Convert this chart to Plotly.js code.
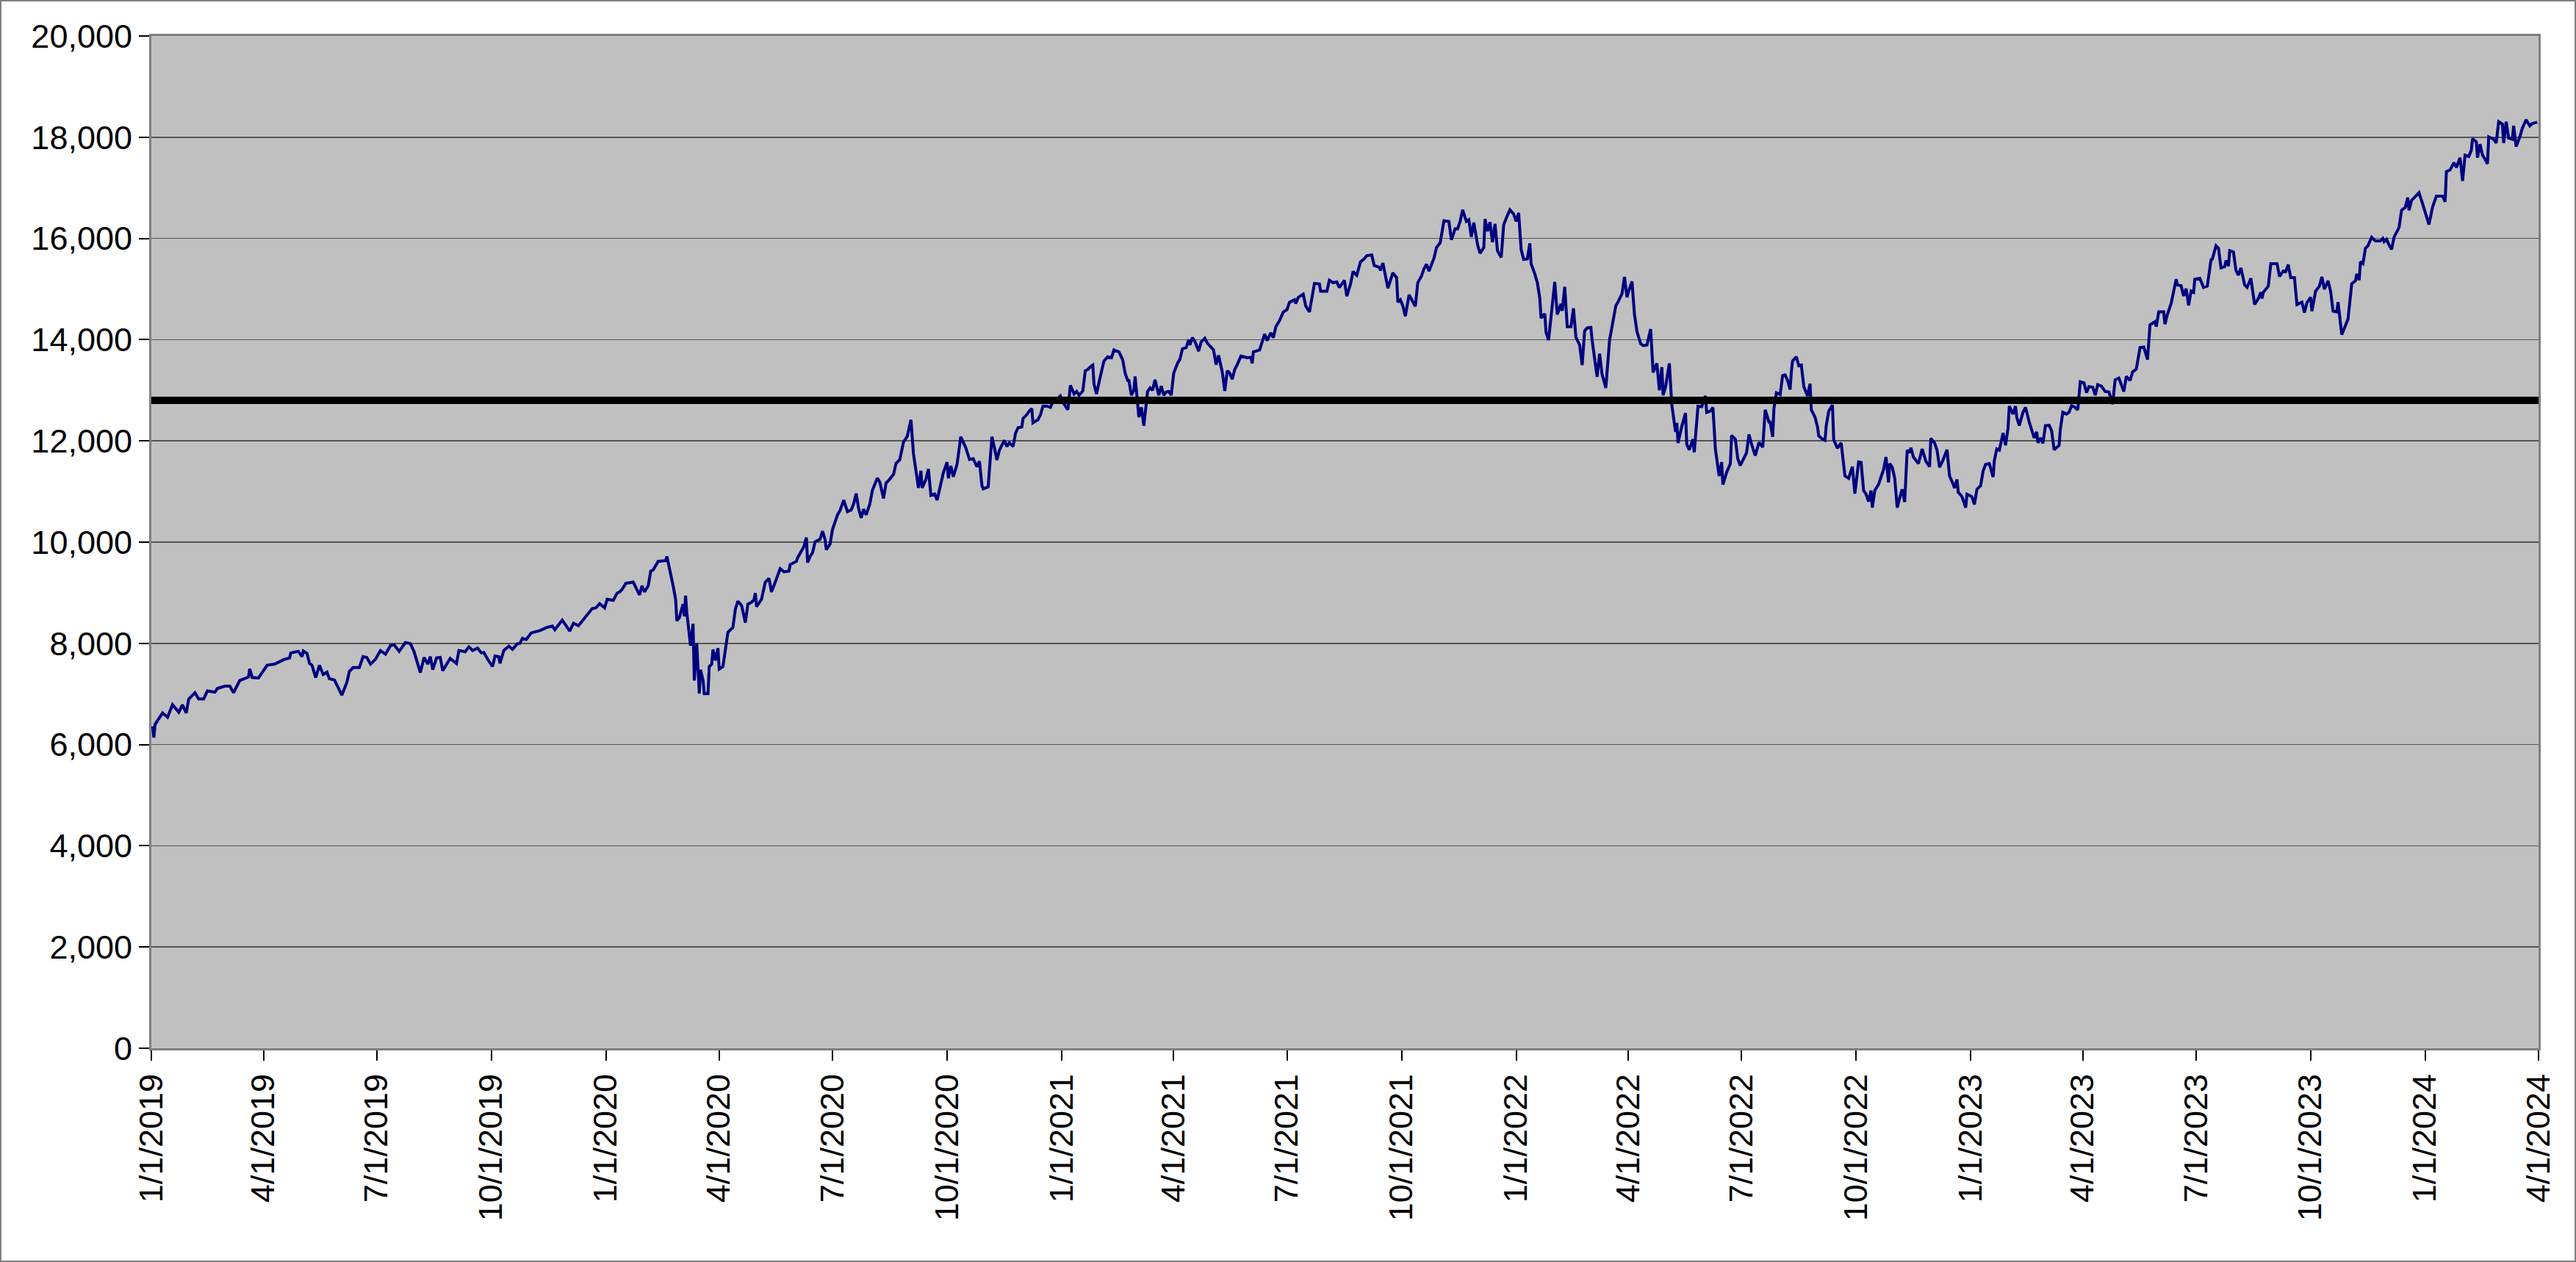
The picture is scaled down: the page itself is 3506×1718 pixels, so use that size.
<!DOCTYPE html>
<html>
<head>
<meta charset="utf-8">
<script src="https://cdn.plot.ly/plotly-3.0.1.min.js"></script>
<style>
  body { margin: 0; background: #fff; }
  #wrap { position: relative; width: 3506px; height: 1718px; }
  #frame { position: absolute; left: 0; top: 0; width: 3506px; height: 1718px; box-sizing: border-box; border: 2px solid #808080; pointer-events: none; }
</style>
</head>
<body>
<div id="wrap">
  <div id="chart" style="width:3506px;height:1718px"></div>
  <div id="frame"></div>
</div>
<script>
// days counted from 1/1/2019
const tradingDay = [
  1, 2, 3, 5, 9, 13, 17, 22, 25, 28, 30, 35, 38, 42, 45, 51, 53, 59, 63, 66, 71, 78, 79, 81, 86, 93, 99, 102, 106, 111,
  112, 118, 121, 122, 125, 127, 129, 132, 135, 138, 141, 143, 147, 153, 157, 159, 162, 167, 170, 173, 176, 180, 184, 188,
  192, 195, 199, 204, 208, 211, 216, 219, 222, 224, 226, 229, 232, 234, 240, 245, 247, 252, 255, 258, 262, 265, 267, 270,
  274, 276, 279, 280, 283, 287, 290, 294, 296, 298, 301, 305, 312, 318, 322, 324, 327,
  330, 336, 339, 343, 347, 351, 354, 357, 360, 364, 366, 371, 374, 376, 378, 381, 387, 392, 394, 396, 399, 401, 403, 407,
  413, 414, 416, 419, 421, 422, 424, 427, 428, 429, 430, 433, 435, 436, 438, 440, 441, 443, 444, 447, 448, 450, 451, 453,
  455, 456, 459, 462, 463, 467, 469, 471, 474, 477, 479, 482, 484, 485, 486, 490, 493, 496, 498, 501, 504, 505, 508, 512,
  513, 518, 519, 522, 524, 526, 527, 529, 531, 533, 537, 539, 541, 542, 545, 547, 551, 553, 556, 559, 562, 564, 566, 568,
  570, 572, 574, 577, 579, 583, 585, 588, 590, 592, 596, 598, 601, 604, 607, 610, 612, 616, 618, 619, 622, 624, 626, 629,
  631, 636, 639, 640, 642, 644, 647,
  650, 654, 657, 660, 663, 665, 667, 668, 672, 675, 677, 679, 681, 685, 687, 689, 692, 694, 696, 699, 700, 703, 705, 707,
  708, 712, 714, 716, 719, 722, 725, 728, 730, 733, 736, 738, 741, 743, 745, 748, 750, 752, 755, 756, 757, 759, 762, 763,
  765, 768, 771, 773, 777, 780, 782, 784, 785, 787, 789, 790, 793, 795, 797, 800, 802, 804, 806, 809, 811, 813, 815, 817,
  819, 821, 824, 826, 828, 831, 833, 834, 836, 838, 841, 843, 846, 848, 850, 853, 855, 857, 860, 862, 864, 866, 868, 870,
  872, 875, 880, 883, 884, 885, 890, 892, 894, 896, 899, 901, 903, 906, 909, 912, 914, 918, 919, 921, 925, 927, 930, 934,
  938, 939, 944, 946, 949, 952, 954, 958, 960, 963,
  965, 968, 971, 974, 976, 980, 982, 986, 987, 989, 993, 997, 1000, 1001, 1003, 1005, 1007, 1010, 1015, 1017, 1020, 1022,
  1024, 1026, 1030, 1032, 1035, 1038, 1042, 1044, 1047, 1049, 1051, 1053, 1056, 1058, 1060, 1062, 1065, 1067, 1070, 1071,
  1073, 1075, 1077, 1079, 1081, 1084, 1086, 1089, 1091, 1094, 1096, 1098, 1100, 1102, 1105, 1107, 1108, 1111, 1113, 1115,
  1116, 1119, 1120, 1122, 1124, 1127, 1129, 1132, 1133, 1135, 1137, 1140, 1142, 1144, 1147, 1149, 1151, 1153, 1156, 1157,
  1161, 1163, 1165, 1168, 1171, 1174, 1176, 1178, 1181, 1183, 1185, 1186, 1189, 1191, 1193, 1196, 1198, 1201, 1204, 1206,
  1209, 1211, 1213, 1214, 1216, 1219, 1221, 1224, 1225, 1226, 1229, 1232, 1233, 1235, 1238, 1239, 1242, 1245, 1248, 1249,
  1252, 1254, 1256, 1259, 1261, 1262, 1265, 1268, 1269, 1272, 1274, 1276, 1281, 1283,
  1285, 1288, 1291, 1294, 1296, 1299, 1300, 1302, 1303, 1305, 1308, 1310, 1312, 1314, 1316, 1317, 1318, 1321, 1323, 1325,
  1327, 1330, 1332, 1333, 1336, 1338, 1339, 1342, 1344, 1345, 1347, 1350, 1351, 1354, 1357, 1360, 1363, 1366, 1368, 1371,
  1373, 1375, 1377, 1379, 1381, 1382, 1384, 1387, 1389, 1391, 1393, 1395, 1396, 1398, 1400, 1402, 1404, 1406, 1408, 1410,
  1412, 1413, 1415, 1419, 1422, 1425, 1428, 1429, 1432, 1434, 1436, 1438, 1442, 1444, 1447, 1448, 1450, 1451, 1454, 1457,
  1458, 1462, 1464, 1466, 1469, 1471, 1473, 1476, 1479, 1480, 1482, 1484, 1487, 1489, 1491, 1492, 1495, 1497, 1498, 1500,
  1503, 1505, 1508, 1512, 1514, 1515, 1517, 1519, 1521, 1524, 1526, 1528, 1532, 1533, 1535, 1538, 1540, 1542, 1544, 1547,
  1549, 1552, 1554, 1556, 1559, 1561, 1563, 1566, 1569, 1572, 1575, 1577, 1580, 1584, 1586, 1589, 1591, 1594, 1597, 1600,
  1603, 1605, 1609, 1610, 1612, 1616, 1617, 1619, 1622, 1626, 1627, 1630, 1632, 1634, 1636, 1638, 1640, 1641, 1645, 1648,
  1651, 1654, 1655, 1658, 1660, 1662, 1665, 1666, 1668, 1669, 1672, 1674, 1676, 1678, 1681, 1683, 1686, 1689, 1692, 1694,
  1695, 1696, 1700, 1702, 1707, 1709, 1712, 1714, 1716, 1718, 1721, 1723, 1727, 1729, 1731, 1734, 1735, 1738, 1741, 1743,
  1745, 1748, 1750, 1752, 1755, 1756, 1759, 1764, 1767, 1770, 1771, 1773, 1774, 1776, 1778, 1780, 1783, 1786, 1790, 1792,
  1793, 1795, 1797, 1799, 1801, 1805, 1807, 1810, 1812, 1813, 1815, 1821, 1824, 1829, 1832, 1835, 1840, 1842, 1843, 1846,
  1849, 1851, 1854, 1856, 1858, 1861, 1863, 1864, 1867, 1868, 1870, 1872, 1874, 1876, 1877, 1881, 1883, 1885, 1888, 1889,
  1891, 1893, 1896, 1897, 1899, 1902, 1904, 1907, 1910, 1912, 1916
];

const indexLevel = [
  6360, 6140, 6400, 6480, 6625, 6540, 6790, 6640, 6785, 6625, 6900, 7025, 6900, 6900, 7060, 7035, 7108, 7155, 7155, 7025,
  7267, 7335, 7495, 7325, 7315, 7567, 7590, 7625, 7675, 7712, 7810, 7843, 7737, 7848, 7800, 7605, 7567, 7325, 7567, 7383,
  7430, 7300, 7277, 6977, 7229, 7445, 7520, 7520, 7737, 7722, 7590, 7688, 7857, 7785, 7955, 7970, 7843, 8015, 7995, 7833,
  7422, 7722, 7590, 7737, 7480, 7712, 7722, 7460, 7703, 7600, 7857, 7833, 7930, 7857, 7906, 7810, 7820, 7688, 7543, 7750,
  7737, 7605, 7857, 7945, 7882, 7992, 8000, 8100, 8075, 8205, 8254, 8317, 8340, 8268, 8365,
  8460, 8242, 8397, 8348, 8474, 8590, 8687, 8701, 8784, 8701, 8871, 8850, 8992, 9016, 9064, 9185, 9209, 8958, 9137, 9016,
  9137, 9427, 9451, 9620, 9635, 9717, 9499, 9137, 8871, 8445, 8508, 8774, 8532, 8943, 8605, 7952, 8387, 7265, 8000, 7008,
  7478, 7274, 7008, 7008, 7540, 7589, 7879, 7661, 7903, 7492, 7540, 8048, 8218, 8314, 8677, 8832, 8750, 8411, 8774, 8813,
  8861, 8992, 8726, 8871, 9209, 9282, 9016, 9209, 9403, 9475, 9412, 9427, 9557, 9620, 9693, 9814, 9911, 10090, 9596, 9717,
  9790, 10007, 10056, 10215, 10056, 9848, 9959, 10249, 10539, 10622, 10830, 10602, 10636, 10757, 10960, 10660, 10481,
  10651, 10539, 10757, 11023, 11265, 11183, 10863, 11168, 11217, 11337, 11555, 11628, 11976, 12087, 12416, 11749, 11072,
  11410, 11072, 11240, 11444, 10926, 10950, 10830, 11370, 11580, 11263, 11505, 11292, 11536,
  12082, 11865, 11633, 11647, 11488, 11599, 11116, 11053, 11092, 12082, 11865, 11623, 11816, 12010, 11889, 11961, 11889,
  12155, 12261, 12275, 12444, 12517, 12589, 12638, 12357, 12420, 12517, 12686, 12686, 12662, 12831, 12841, 12889, 12725,
  12614, 13097, 12928, 12976, 12903, 12986, 13386, 13411, 13483, 13498, 13121, 12928, 13266, 13386, 13580, 13662, 13643,
  13797, 13758, 13604, 13338, 13193, 13193, 12903, 13000, 13275, 12469, 12662, 12300, 12976, 13048, 13000, 13208, 12903,
  13082, 12903, 12966, 12976, 12903, 13338, 13531, 13614, 13821, 13845, 14000, 13894, 14039, 13966, 13773, 13952, 14029,
  13932, 13870, 13797, 13507, 13691, 13362, 12986, 13386, 13338, 13217, 13411, 13507, 13676, 13643, 13652, 13531, 13758,
  13797, 13966, 14111, 13981, 14135, 14039, 14256, 14377, 14546, 14594, 14739, 14788, 14715, 14836, 14899, 14667, 14546,
  15111, 15101, 14957, 14957, 15174, 15126, 15140, 15029, 15174, 14860, 15101,
  15345, 15272, 15538, 15596, 15659, 15674, 15466, 15432, 15369, 15514, 15016, 15320, 15224, 14740, 14788, 14668, 14464,
  14885, 14658, 15127, 15258, 15403, 15490, 15354, 15611, 15819, 15915, 16351, 16336, 15973, 16191, 16191, 16336, 16564,
  16336, 16370, 16032, 16312, 15877, 15707, 15819, 16385, 16143, 16322, 15925, 16288, 15756, 15625, 16273, 16457, 16564,
  16481, 16336, 16505, 15780, 15587, 15596, 15901, 15500, 15296, 15127, 14813, 14426, 14513, 14145, 13990, 14474, 15141,
  14498, 14706, 14571, 15045, 14256, 14256, 14619, 14048, 13894, 13497, 14174, 14232, 14242, 13990, 13265, 13724, 13313,
  13047, 13990, 14426, 14668, 14755, 14909, 15238, 14837, 14933, 15151, 14498, 14160, 13918, 13884, 13894, 14208, 13352,
  13531, 12999, 13458, 12902, 13071, 13531, 12709, 12179, 12355, 11959, 12288, 12549, 11935, 11823, 12034, 11775, 12684,
  12675, 12888, 12563, 12588, 12660, 11838, 11306, 11582, 11136, 11378, 11548, 12106, 12034, 11645, 11514, 11766, 12128,
  11937, 11710, 11971, 11874, 12614, 12372, 12372, 12082, 12638, 12952, 12918, 13290, 13304, 13193, 13014, 13372, 13580,
  13662, 13483, 13498, 13072, 12889, 13130, 12614, 12469, 12275, 12097, 12034, 12010, 12300, 12589, 12710, 12019, 11855,
  11961, 11309, 11261, 11488, 10957, 11585, 11575, 11019, 10947, 10802, 11019, 10681, 11019, 11140, 11309, 11430, 11681,
  11179, 11551, 11478, 11261, 10681, 10874, 11043, 10792, 11816, 11768, 11865, 11681, 11551, 11841, 11599, 11488, 12048,
  11961, 11816, 11478, 11575, 11826, 11309, 11140, 11068, 11237, 10986, 10899, 10681, 10947, 10899, 10744, 11043, 11116,
  11406, 11536, 11551, 11285, 11614, 11841, 11816, 12155, 11913, 12251, 12686, 12531, 12686, 12469, 12300, 12565, 12662,
  12372, 12058, 12179, 11961, 12058, 11952, 12300, 12309, 12203, 11826, 11913, 12227, 12565, 12531, 12565, 12696, 12676,
  12614, 13169, 13145, 12952, 13072, 13063, 12903, 13111, 13082, 12976, 12966, 12725, 13208, 13242, 12976, 13275, 13193,
  13362, 13420, 13845, 13855,
  13606, 14293, 14355, 14259, 14549, 14549, 14307, 14501, 14718, 15192, 15081, 15066, 14863, 15008, 14679, 14960, 14936,
  15192, 15212, 15033, 15057, 15579, 15589, 15855, 15807, 15420, 15444, 15565, 15453, 15758, 15734, 15371, 15274, 15420,
  15081, 15033, 15212, 14694, 14815, 14936, 14815, 14936, 15057, 15502, 15502, 15250, 15357, 15347, 15482, 15226, 15226,
  14694, 14742, 14534, 14728, 14839, 14563, 14960, 15057, 15241, 14999, 15163, 14960, 14563, 14549, 14742, 14099, 14404,
  15105, 15163, 15299, 15178, 15540, 15502, 15807, 15855, 16024, 15952, 15952, 16000, 15937, 15985, 15869, 15782, 16024,
  16218, 16556, 16614, 16808, 16556, 16750, 16905, 16677, 16276, 16629, 16837, 16837, 16726, 17320, 17354, 17499, 17403,
  17596, 17137, 17645, 17620, 17741, 17969, 17911, 17596, 17862, 17645, 17572, 17475, 18007, 17959, 17886, 18307, 18259,
  17886, 18307, 17983, 17959, 18225, 17814, 18007, 18177, 18346, 18225, 18273, 18297
];

// thick horizontal reference level
const referenceLevel = [12800];

const startMs = Date.UTC(2019, 0, 1);
const dates = tradingDay.map((d) => new Date(startMs + d * 86400000).toISOString().slice(0, 10));

const font = { family: "Liberation Sans, Arial, sans-serif", size: 45, color: "#000" };

Plotly.newPlot("chart", [
  {
    x: dates,
    y: indexLevel,
    type: "scatter",
    mode: "lines",
    line: { color: "#000080", width: 4 },
    hoverinfo: "skip",
  },
], {
  width: 3506,
  height: 1718,
  margin: { l: 206, r: 51, t: 49, b: 291 },
  paper_bgcolor: "#ffffff",
  plot_bgcolor: "#c0c0c0",
  showlegend: false,
  font: font,
  xaxis: {
    type: "date",
    range: ["2019-01-01", "2024-04-01"],
    tick0: "2019-01-01",
    dtick: "M3",
    tickformat: "%-m/%-d/%Y",
    tickangle: -90,
    ticks: "outside",
    ticklen: 14,
    tickwidth: 2,
    tickcolor: "#000",
    tickfont: font,
    showgrid: false,
    zeroline: false,
    showline: true,
    linecolor: "#808080",
    linewidth: 3,
    mirror: true,
  },
  yaxis: {
    range: [0, 20000],
    dtick: 2000,
    tickformat: ",d",
    ticks: "outside",
    ticklen: 14,
    tickwidth: 2,
    tickcolor: "#000",
    tickfont: font,
    showgrid: true,
    gridcolor: "#555555",
    gridwidth: 1.5,
    zeroline: false,
    showline: true,
    linecolor: "#808080",
    linewidth: 3,
    mirror: true,
  },
  shapes: [
    {
      type: "line",
      xref: "paper",
      x0: 0,
      x1: 1,
      yref: "y",
      y0: referenceLevel[0],
      y1: referenceLevel[0],
      line: { color: "#000", width: 10 },
    },
  ],
}, { staticPlot: true, displayModeBar: false })
</script>
</body>
</html>
